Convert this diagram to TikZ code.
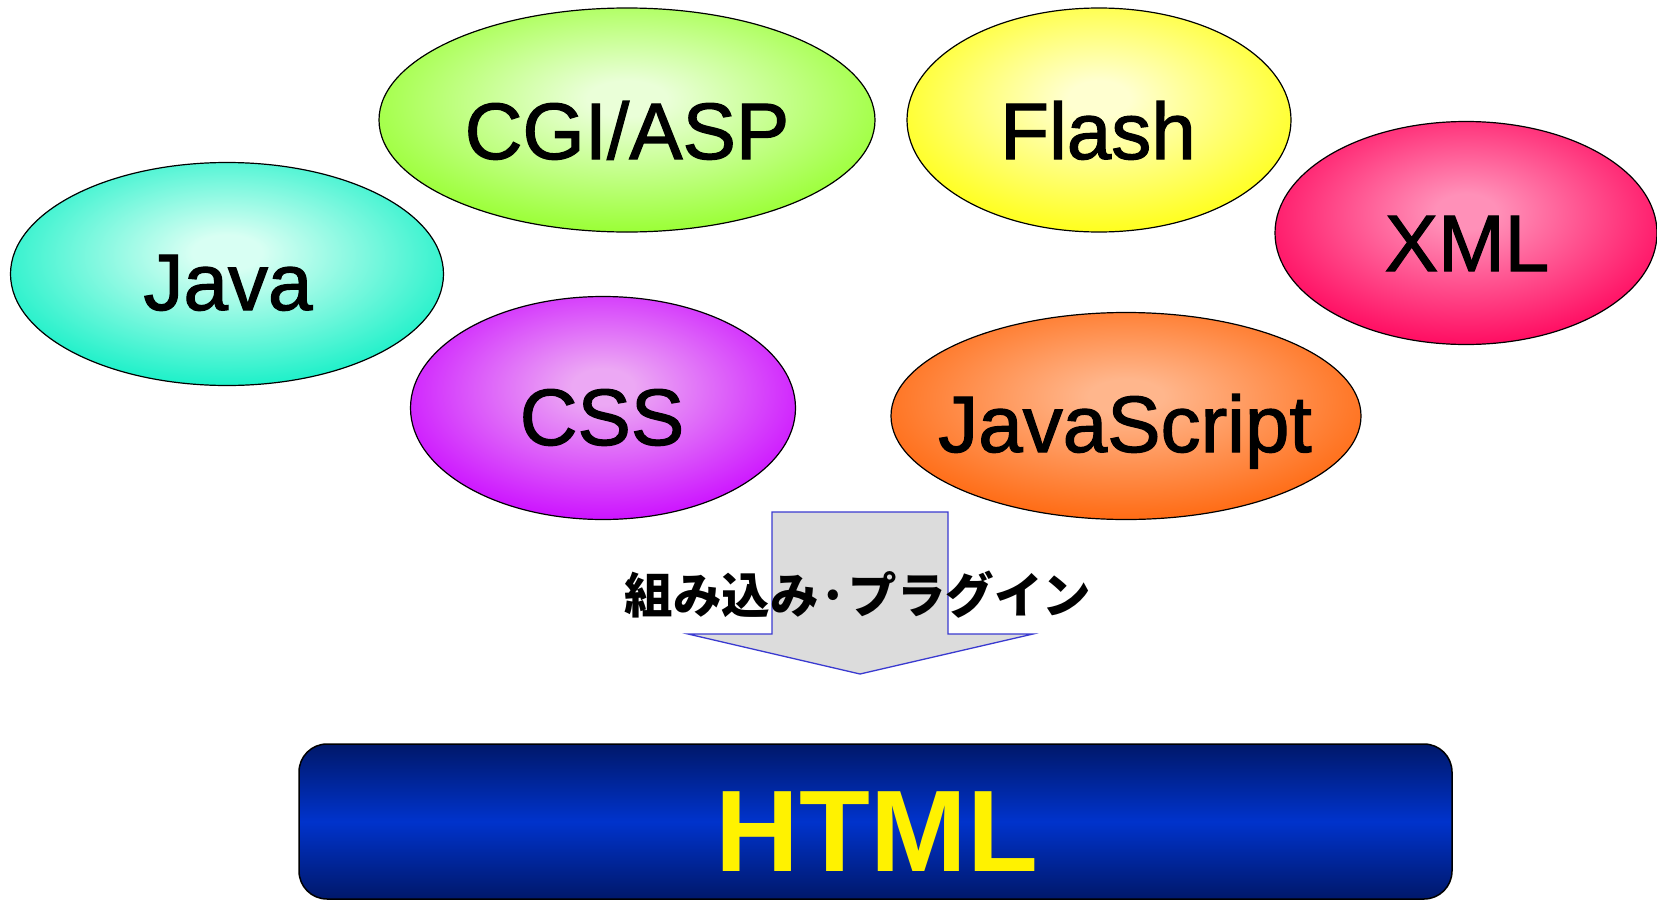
\documentclass[tikz,border=0pt]{standalone}
\usepackage{fontspec}
\setmainfont{Liberation Sans}
\newfontfamily\bubfont[FakeBold=1.5]{Liberation Sans}
\newfontfamily\cjkfont{Noto Sans CJK JP}
\usetikzlibrary{shapes.geometric}
\makeatletter
\pgfdeclareradialshading[tikz@radial@inner,tikz@radial@outer]{softball}{\pgfpoint{0bp}{5bp}}{color(0bp)=(tikz@radial@inner);color(4bp)=(tikz@radial@inner);color(29bp)=(tikz@radial@outer);color(100bp)=(tikz@radial@outer)}
\makeatother
\definecolor{cgiE}{HTML}{99FF33}\definecolor{cgiC}{HTML}{EAFFD8}
\definecolor{javaE}{HTML}{1AF0C8}\definecolor{javaC}{HTML}{D8FFF3}
\definecolor{cssE}{HTML}{CC11FF}\definecolor{cssC}{HTML}{ECA8F4}
\definecolor{flashE}{HTML}{FFFF1A}\definecolor{flashC}{HTML}{FFFFD0}
\definecolor{xmlE}{HTML}{FF0A60}\definecolor{xmlC}{HTML}{FF90B8}
\definecolor{jsE}{HTML}{FF6A12}\definecolor{jsC}{HTML}{FFB68C}
\definecolor{navy}{HTML}{00186A}
\definecolor{royal}{HTML}{0033CC}
\definecolor{arrowfill}{HTML}{DCDCDC}
\definecolor{arrowline}{HTML}{3A3AD0}
\tikzset{
  bubble/.style={draw=black, line width=1.2pt, ellipse, inner sep=0pt},
  bubtext/.style={anchor=base, inner sep=0pt, font=\bubfont\fontsize{80}{90}\selectfont},
}
\begin{document}
\begin{tikzpicture}[x=1pt,y=-1pt]
\useasboundingbox (0,0) rectangle (1657,902);
% ellipses
\node[bubble, minimum width=496, minimum height=224, inner color=cgiC, outer color=cgiE, shading=softball] (cgi) at (627,120) {};
\node[bubble, minimum width=433, minimum height=223, inner color=javaC, outer color=javaE, shading=softball] (java) at (227,274) {};
\node[bubble, minimum width=385, minimum height=223, inner color=cssC, outer color=cssE, shading=softball] (css) at (603,408) {};
\node[bubble, minimum width=384, minimum height=224, inner color=flashC, outer color=flashE, shading=softball] (flash) at (1099,120) {};
\node[bubble, minimum width=382, minimum height=223, inner color=xmlC, outer color=xmlE, shading=softball] (xml) at (1466,233) {};
\node[bubble, minimum width=470, minimum height=207, inner color=jsC, outer color=jsE, shading=softball] (js) at (1126,416) {};
% labels
\node[bubtext] (tcgi) at (627,159) {CGI/ASP};
\node[bubtext] (tjava) at (228,310) {Java};
\node[bubtext] (tcss) at (602,445) {CSS};
\node[bubtext] (tflash) at (1098,159) {Flash};
\node[bubtext] (txml) at (1467,271) {XML};
\node[bubtext] (tjs) at (1125,452) {JavaScript};
% arrow
\draw[fill=arrowfill, draw=arrowline, line width=1.3pt, line join=miter]
  (772,512) -- (948,512) -- (948,634) -- (1033,634) -- (860,674) -- (688,634) -- (772,634) -- cycle;
\coordinate (arrowtip) at (860,674);
\node[anchor=base, inner sep=0pt, font=\cjkfont\bfseries\fontsize{48.5}{60}\selectfont] (plug) at (858,613) {組み込み·プラグイン};
% HTML box
\node[draw=black, line width=1.5pt, rounded corners=28pt, minimum width=1153, minimum height=155, inner sep=0pt,
      top color=navy, bottom color=navy, middle color=royal] (html) at (875.5,821.5) {};
\node[anchor=base, inner sep=0pt, text=yellow, font=\bfseries\fontsize{116}{120}\selectfont] (thtml) at (877,871) {HTML};
\end{tikzpicture}
\end{document}
